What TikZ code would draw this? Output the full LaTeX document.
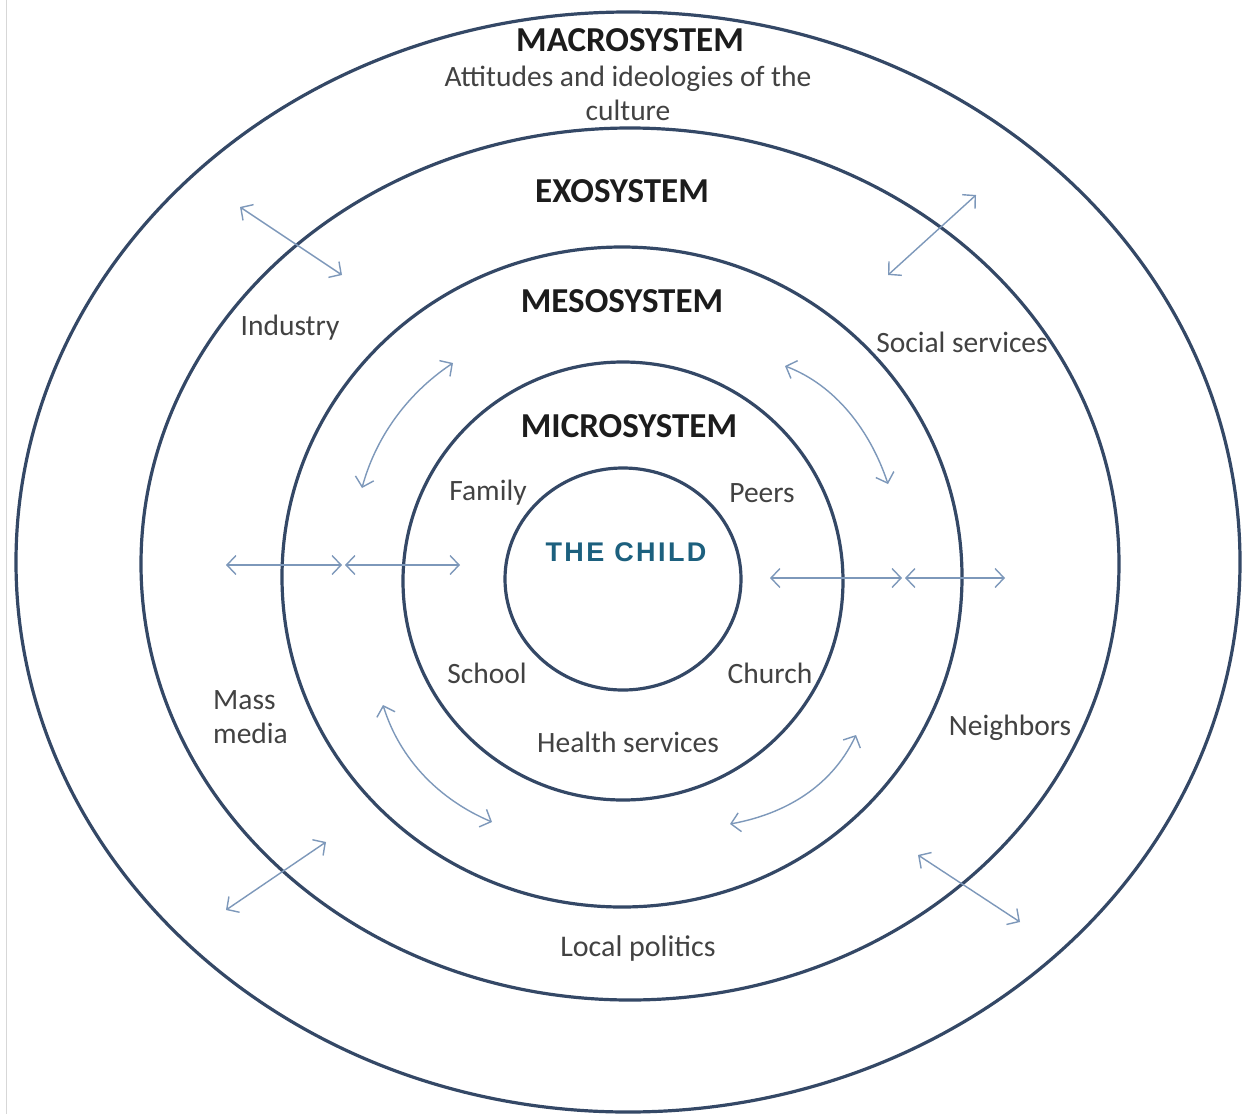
\documentclass[tikz,border=0pt]{standalone}
\usepackage{fontspec}
\setmainfont{Carlito}
\newfontfamily\headfont{Liberation Sans}[LetterSpace=9]
\usetikzlibrary{arrows.meta}

\definecolor{ring}{RGB}{52,72,102}
\definecolor{link}{RGB}{125,152,186}
\definecolor{labeltext}{RGB}{66,66,66}
\definecolor{titletext}{RGB}{28,28,28}
\definecolor{childtext}{RGB}{28,96,126}
\definecolor{frame}{RGB}{215,215,215}

\tikzset{
  ringline/.style={draw=ring, line width=3.2pt},
  twoway/.style={draw=link, line width=1.4pt,
    {Straight Barb[length=9pt,width=19pt]}-{Straight Barb[length=9pt,width=19pt]}},
  systemtitle/.style={font=\bfseries\fontsize{35}{40}\selectfont, text=titletext, inner sep=0pt},
  place/.style={font=\fontsize{29.5}{34}\selectfont, text=labeltext, inner sep=0pt},
}

\begin{document}
\begin{tikzpicture}[x=1pt, y=-1pt]
  % canvas
  \useasboundingbox (0,0) rectangle (1253,1114);
  \fill[white] (0,0) rectangle (1253,1114);
  \draw[frame, line width=1pt] (6,0) -- (6,1114);

  % nested systems, outermost first
  \draw[ringline] (628,562) ellipse [x radius=612, y radius=550];
  \draw[ringline] (630,564) ellipse [x radius=489, y radius=436];
  \draw[ringline] (622,577) ellipse [x radius=340, y radius=330];
  \draw[ringline] (623,581) ellipse [x radius=220, y radius=219];
  \draw[ringline] (623,579) ellipse [x radius=118, y radius=111];

  % system titles
  \node[systemtitle] (macro) at (630,40) {MACROSYSTEM};
  \node[place, align=center] (culture) at (628,93)
    {Attitudes and ideologies of the\\culture};
  \node[systemtitle] (exo) at (622,191) {EXOSYSTEM};
  \node[systemtitle] (meso) at (622,301) {MESOSYSTEM};
  \node[systemtitle] (micro) at (629,426) {MICROSYSTEM};

  % the child
  \node[font=\headfont\bfseries\fontsize{27}{30}\selectfont, text=childtext, inner sep=0pt]
    (child) at (626,552) {THE CHILD};

  % microsystem settings
  \node[place] (family) at (488,493) {Family};
  \node[place] (peers) at (762,493) {Peers};
  \node[place] (school) at (487,673) {School};
  \node[place] (church) at (770,673) {Church};
  \node[place] (health) at (628,742) {Health services};

  % exosystem settings
  \node[place] (industry) at (290,328) {Industry};
  \node[place] (social) at (962,342) {Social services};
  \node[place, align=left, anchor=west] (media) at (213,717) {Mass\\media};
  \node[place] (neighbors) at (1010,728) {Neighbors};
  \node[place, font=\fontsize{30}{34}\selectfont] (politics) at (638,948) {Local politics};

  % straight two-way links across the exosystem boundary
  \coordinate (ul1) at (240,207);  \coordinate (ul2) at (342,275);
  \coordinate (ur1) at (976,195);  \coordinate (ur2) at (888,275);
  \coordinate (ll1) at (226,910);  \coordinate (ll2) at (326,842);
  \coordinate (lr1) at (918,855);  \coordinate (lr2) at (1020,922);
  \draw[twoway] (ul1) -- (ul2);
  \draw[twoway] (ur1) -- (ur2);
  \draw[twoway] (ll1) -- (ll2);
  \draw[twoway] (lr1) -- (lr2);

  % horizontal links through the rings
  \coordinate (wa) at (226,565); \coordinate (wb) at (342,565);
  \coordinate (wc) at (345,565); \coordinate (wd) at (460,565);
  \coordinate (ea) at (770,578); \coordinate (eb) at (902,578);
  \coordinate (ec) at (905,578); \coordinate (ed) at (1005,578);
  \draw[twoway] (wa) -- (wb);
  \draw[twoway] (wc) -- (wd);
  \draw[twoway] (ea) -- (eb);
  \draw[twoway] (ec) -- (ed);

  % curved links inside the mesosystem
  \coordinate (m1a) at (453,363); \coordinate (m1b) at (362,488);
  \coordinate (m2a) at (785,366); \coordinate (m2b) at (888,484);
  \coordinate (m3a) at (383,705); \coordinate (m3b) at (492,822);
  \coordinate (m4a) at (856,735); \coordinate (m4b) at (730,824);
  \draw[twoway] (m1a) .. controls (405,395) and (375,440) .. (m1b);
  \draw[twoway] (m2a) .. controls (835,385) and (870,430) .. (m2b);
  \draw[twoway] (m3a) .. controls (400,760) and (440,800) .. (m3b);
  \draw[twoway] (m4a) .. controls (830,790) and (780,815) .. (m4b);
\end{tikzpicture}
\end{document}
